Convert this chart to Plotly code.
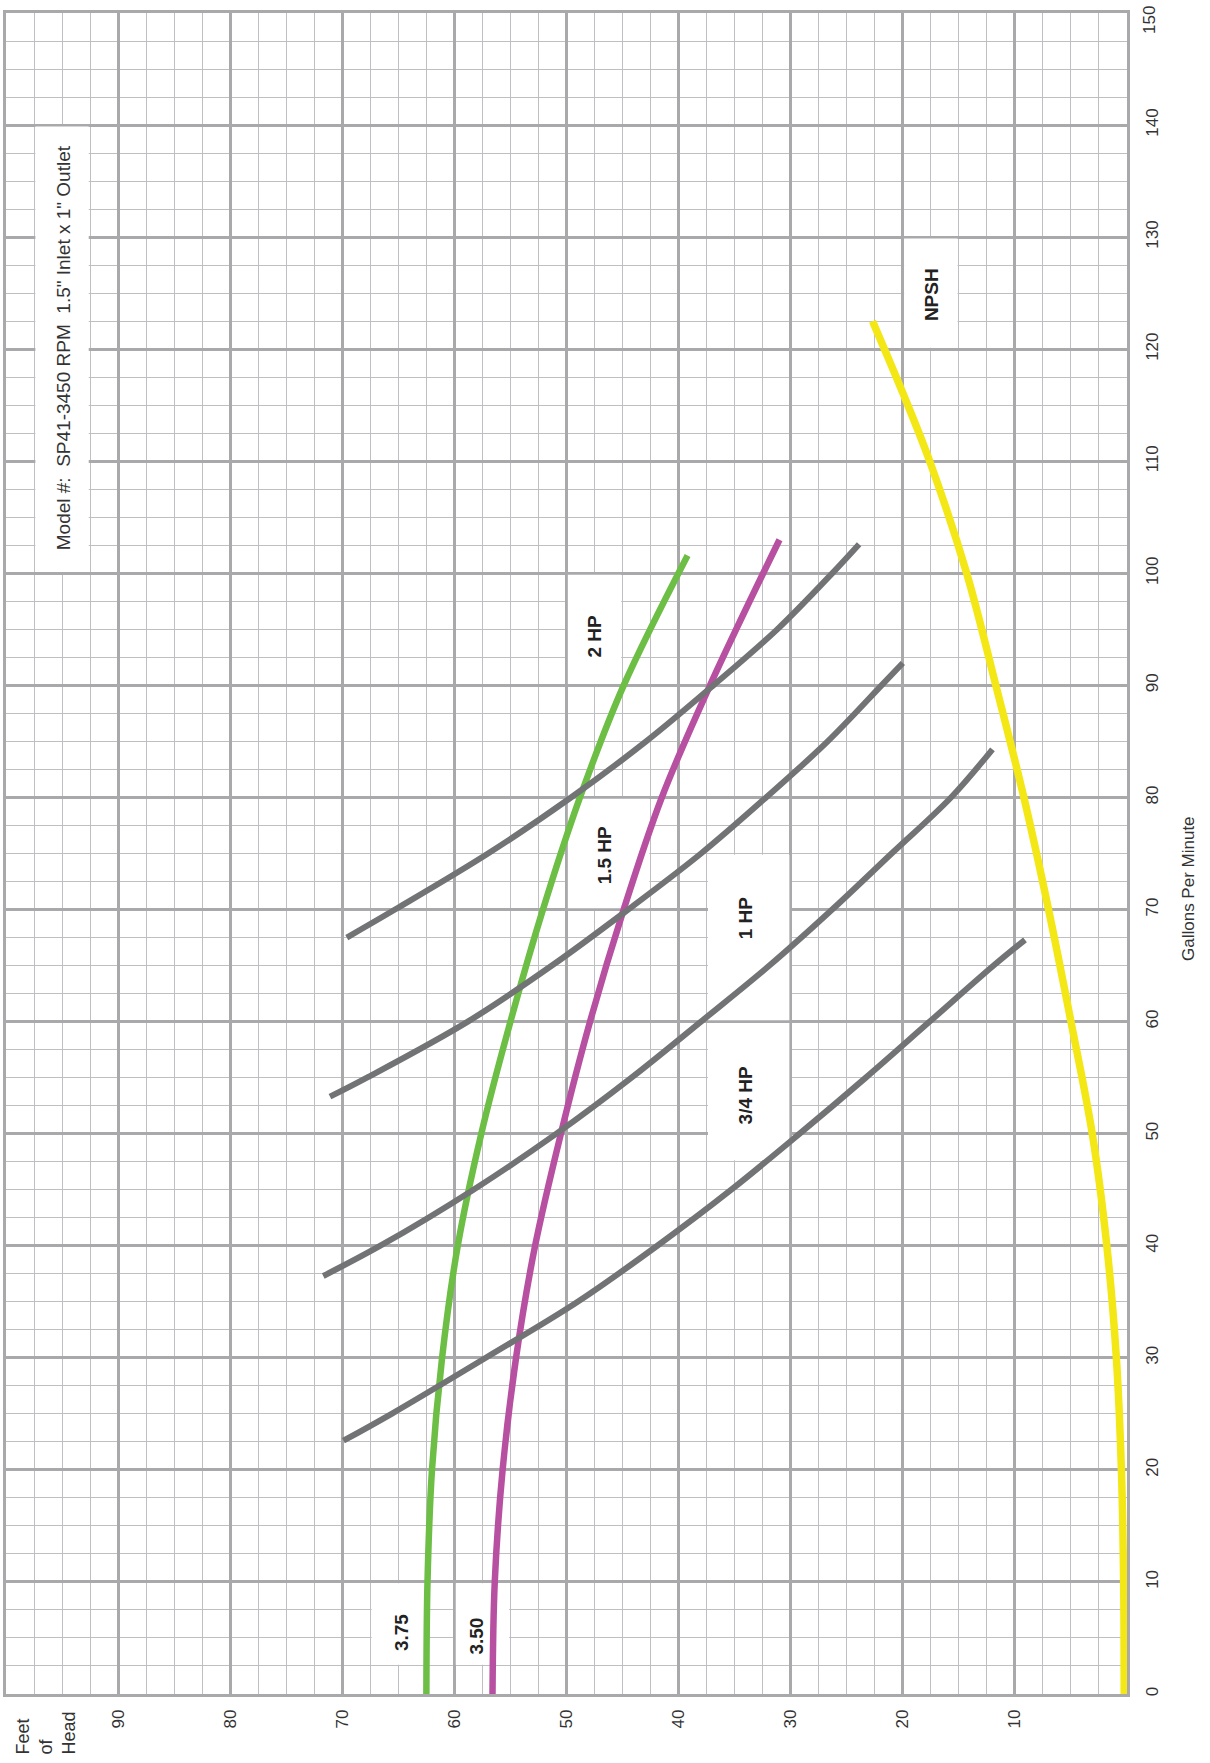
import plotly.graph_objects as go

# axis ticks
gpm_ticks = list(range(0, 151, 10))
gpm_text = [str(v) for v in gpm_ticks]
gpm_text[-1] = ""  # top label is placed by hand so it stays on the page
head_ticks = list(range(10, 91, 10))

# impeller curves: flow (GPM) vs head (feet)
imp_375_gpm = [0, 10, 20, 30, 40, 50, 60, 70, 80, 90, 101.6]
imp_375_head = [62.5, 62.4, 62.0, 61.1, 59.7, 57.6, 55.0, 52.1, 48.8, 44.9, 39.2]

imp_350_gpm = [0, 10, 20, 30, 40, 50, 60, 70, 80, 90, 103]
imp_350_head = [56.6, 56.4, 55.7, 54.5, 52.8, 50.5, 47.9, 44.9, 41.5, 37.2, 31.0]

# horsepower lines
hp_075_gpm = [22.6, 25, 30, 35, 40, 45, 50, 55, 60, 65, 67.3]
hp_075_head = [69.9, 65.6, 57.2, 49.0, 41.9, 35.3, 29.2, 23.3, 17.6, 11.9, 9.1]

hp_100_gpm = [37.3, 40, 45, 50, 55, 60, 65, 70, 75, 80, 84.3]
hp_100_head = [71.7, 66.6, 58.3, 50.9, 44.2, 38.0, 31.9, 26.3, 21.0, 15.7, 12.0]

hp_150_gpm = [53.3, 55, 60, 65, 70, 75, 80, 85, 90, 92]
hp_150_head = [71.1, 67.8, 58.8, 51.3, 44.5, 38.0, 32.2, 26.7, 21.9, 20.0]

hp_200_gpm = [67.5, 70, 75, 80, 85, 90, 95, 100, 102.6]
hp_200_head = [69.6, 65.3, 57.0, 49.6, 42.9, 36.9, 31.2, 26.3, 23.9]

# NPSH required
npsh_gpm = [0, 10, 20, 30, 40, 50, 60, 70, 80, 90, 100, 110, 116.1, 122.5]
npsh_head = [0.25, 0.3, 0.5, 0.95, 1.8, 3.1, 5.0, 7.0, 9.2, 11.7, 14.3, 17.6, 20.0, 22.7]

# curve labels: text, head, gpm, box (head_hi, head_lo, gpm_lo, gpm_hi)
labels = [
    ("3.75", 64.7, 5.5, (67.5, 62.5, 2.5, 10)),
    ("3.50", 58.0, 5.2, (60, 55, 2.5, 10)),
    ("3/4 HP", 34.0, 53.4, (37.5, 30, 47.5, 60)),
    ("1 HP", 34.0, 69.3, (37.5, 30, 60, 75)),
    ("1.5 HP", 46.6, 74.8, (50, 42.5, 70, 80)),
    ("2 HP", 47.5, 94.4, (50, 45, 90, 100)),
    ("NPSH", 17.5, 124.9, (20, 15, 120, 130)),
]
model_text = "Model #:\u00a0 SP41-3450 RPM\u00a0 1.5\" Inlet x 1\" Outlet"

FONT = "Liberation Sans, Arial, sans-serif"
MAJOR = "#a9a9ab"
MINOR = "#bfbfc1"

fig = go.Figure()

curves = [
    (npsh_gpm, npsh_head, "#f4e716", 7.5),
    (imp_375_gpm, imp_375_head, "#6cbe45", 6.5),
    (imp_350_gpm, imp_350_head, "#b750a0", 6.5),
    (hp_075_gpm, hp_075_head, "#727375", 6),
    (hp_100_gpm, hp_100_head, "#727375", 6),
    (hp_150_gpm, hp_150_head, "#727375", 6),
    (hp_200_gpm, hp_200_head, "#727375", 6),
]
for g, h, col, w in curves:
    fig.add_trace(go.Scatter(
        x=h, y=g, mode="lines",
        line=dict(color=col, width=w, shape="spline", smoothing=1.0),
        hoverinfo="skip", cliponaxis=False
    ))

shapes = []
annotations = []
pad = 0.12
for text, hx, gy, (h1, h0, g0, g1) in labels:
    shapes.append(dict(
        type="rect", xref="x", yref="y", layer="between",
        x0=h1 - pad, x1=h0 + pad, y0=g0 + pad, y1=g1 - pad,
        fillcolor="white", line=dict(width=0)
    ))
    annotations.append(dict(
        x=hx, y=gy, xref="x", yref="y", text="<b>%s</b>" % text,
        showarrow=False, textangle=-90,
        font=dict(family=FONT, size=19, color="#222222")
    ))

# model box
shapes.append(dict(
    type="rect", xref="x", yref="y", layer="between",
    x0=97.5 - pad, x1=92.5 + pad, y0=100 + pad, y1=140 - pad,
    fillcolor="white", line=dict(width=0)
))
annotations.append(dict(
    x=94.9, y=120.1, xref="x", yref="y", text=model_text,
    showarrow=False, textangle=-90,
    font=dict(family=FONT, size=19, color="#333333")
))

# top GPM label, nudged down a little like on the sheet
annotations.append(dict(
    x=(1149 - 6) / 1121, y=(1694 - 20) / 1681, xref="paper", yref="paper",
    text=str(gpm_ticks[-1]), showarrow=False, textangle=-90,
    xanchor="center", yanchor="middle",
    font=dict(family=FONT, size=17, color="#333333")
))

# axis titles, placed like the original sheet
annotations.append(dict(
    x=(1188 - 6) / 1121, y=(1694 - 889) / 1681, xref="paper", yref="paper",
    text="Gallons Per Minute", showarrow=False, textangle=-90,
    xanchor="center", yanchor="middle",
    font=dict(family=FONT, size=17, color="#333333")
))
annotations.append(dict(
    x=(46 - 6) / 1121, y=(1694 - 1757) / 1681, xref="paper", yref="paper",
    text="Feet<br>of<br>Head", showarrow=False, textangle=-90, align="left",
    xanchor="center", yanchor="bottom",
    font=dict(family=FONT, size=18, color="#333333")
))

fig.update_layout(
    width=1210, height=1763,
    margin=dict(l=6, r=83, t=13, b=69, autoexpand=False),
    paper_bgcolor="white", plot_bgcolor="white",
    showlegend=False,
    shapes=shapes, annotations=annotations,
    font=dict(family=FONT, color="#333333"),
    xaxis=dict(
        range=[100, 0], tickmode="array", tickvals=head_ticks,
        ticktext=[str(v) for v in head_ticks], tickangle=-90,
        tickfont=dict(size=17), ticks="", ticklabelstandoff=6,
        showgrid=True, gridcolor=MAJOR, gridwidth=2.5,
        minor=dict(dtick=2.5, tick0=0, showgrid=True, gridcolor=MINOR, gridwidth=1.3),
        showline=True, mirror=True, linecolor=MAJOR, linewidth=2.5,
        zeroline=False, fixedrange=True, automargin=False,
    ),
    yaxis=dict(
        range=[0, 150], side="right", tickmode="array", tickvals=gpm_ticks,
        ticktext=gpm_text, tickangle=-90, ticklabeloverflow="allow",
        tickfont=dict(size=17), ticks="", ticklabelstandoff=8,
        showgrid=True, gridcolor=MAJOR, gridwidth=2.5,
        minor=dict(dtick=2.5, tick0=0, showgrid=True, gridcolor=MINOR, gridwidth=1.3),
        showline=True, mirror=True, linecolor=MAJOR, linewidth=2.5,
        zeroline=False, fixedrange=True, automargin=False,
    ),
)

# page body has a default 8px margin; drop it so the sheet sits flush
fig.write_html(
    "out.html",
    config={"displayModeBar": False},
    post_script="document.body.style.margin='0px';",
)
